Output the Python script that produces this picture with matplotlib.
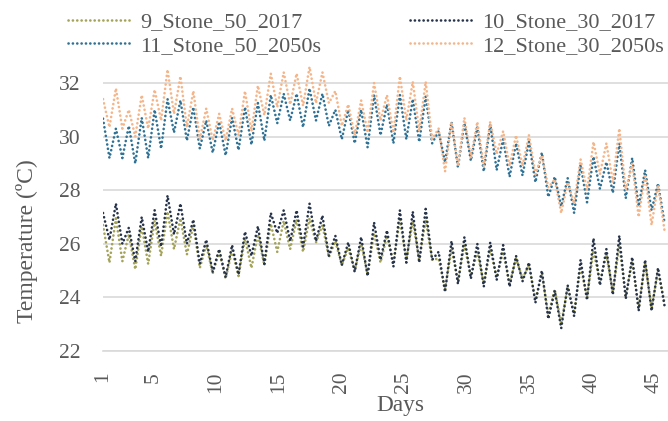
import numpy as np
import matplotlib.pyplot as plt

plt.rcParams['font.family'] = ['Liberation Serif', 'DejaVu Serif']

# Daily peak and trough temperatures (ºC), one pair per day
s9_peak = [26.7, 26.95, 26.35, 26.65, 26.85, 27.2, 26.95, 26.7, 25.95, 25.7, 25.75, 26.2, 26.35, 26.75, 26.85,
           26.9, 26.95, 26.7, 26.1, 25.85, 26.0, 26.4, 26.3, 26.9, 26.85, 26.9, 25.45, 25.8, 25.95, 25.7,
           25.8, 25.7, 25.45, 25.2, 24.9, 24.3, 24.4, 25.15, 25.75, 25.6, 25.95, 25.35, 25.3, 25.0]
s9_trough = [25.3, 25.35, 25.05, 25.25, 25.55, 25.8, 25.6, 25.1, 24.9, 24.7, 24.8, 25.1, 25.2, 25.7, 25.8,
             25.7, 26.05, 25.5, 25.2, 25.0, 24.85, 25.3, 25.3, 25.4, 25.4, 25.4, 24.3, 24.6, 24.8, 24.5,
             24.75, 24.5, 24.7, 23.9, 23.35, 23.0, 23.4, 24.0, 24.55, 24.2, 24.05, 23.6, 23.6, 23.8]

s10_peak = [27.15, 27.5, 26.6, 27.0, 27.25, 27.8, 27.5, 26.9, 26.15, 25.8, 25.95, 26.45, 26.65, 27.15, 27.25,
            27.25, 27.5, 27.05, 26.3, 26.05, 26.25, 26.8, 26.5, 27.25, 27.2, 27.3, 25.7, 26.1, 26.25, 26.0,
            26.05, 25.95, 25.55, 25.3, 25.0, 24.25, 24.45, 25.4, 26.2, 25.8, 26.3, 25.5, 25.4, 25.1]
s10_trough = [26.15, 26.0, 25.35, 25.7, 25.9, 26.35, 26.0, 25.25, 24.95, 24.75, 24.85, 25.55, 25.25, 26.4, 26.1,
              25.9, 26.1, 25.55, 25.2, 24.95, 24.8, 25.4, 25.15, 25.3, 25.3, 25.4, 24.2, 24.5, 24.7, 24.4,
              24.65, 24.4, 24.6, 23.8, 23.2, 22.85, 23.3, 23.9, 24.45, 24.1, 23.95, 23.5, 23.5, 23.7]

s11_peak = [30.67, 30.3, 30.4, 30.7, 31.0, 31.4, 31.35, 31.1, 30.6, 30.55, 30.7, 31.1, 31.25, 31.55, 31.6,
            31.6, 31.8, 31.6, 31.0, 31.0, 31.0, 31.55, 31.2, 31.55, 31.4, 31.5, 30.2, 30.55, 30.5, 30.35,
            30.45, 29.9, 29.75, 29.8, 29.4, 28.5, 28.45, 28.95, 29.25, 29.05, 29.75, 29.2, 28.75, 28.25]
s11_trough = [29.2, 29.2, 29.0, 29.2, 29.55, 30.15, 29.85, 29.55, 29.4, 29.3, 29.5, 29.7, 29.85, 30.5, 30.6,
              30.35, 30.6, 30.4, 29.9, 29.75, 29.6, 30.05, 29.75, 29.9, 29.8, 29.75, 29.05, 28.85, 29.1, 28.7,
              28.75, 28.5, 28.55, 28.3, 27.75, 27.4, 27.15, 27.55, 28.05, 27.9, 27.7, 27.4, 27.25, 26.8]

s12_peak = [31.4, 31.8, 31.0, 31.55, 31.75, 32.5, 32.25, 31.7, 31.05, 30.85, 31.05, 31.7, 31.9, 32.35, 32.4,
            32.35, 32.6, 32.4, 31.7, 31.2, 31.35, 32.0, 31.55, 32.25, 32.05, 32.05, 30.3, 30.55, 30.7, 30.55,
            30.55, 30.2, 30.05, 30.05, 29.3, 28.4, 28.3, 29.15, 29.8, 29.75, 30.3, 29.0, 28.6, 28.2]
s12_trough = [30.35, 30.3, 30.0, 30.3, 30.6, 30.85, 30.35, 29.9, 29.85, 29.85, 30.05, 30.2, 30.8, 31.1, 31.2,
              31.15, 31.25, 31.25, 30.4, 30.05, 30.15, 30.6, 30.15, 30.6, 30.2, 29.9, 28.7, 28.9, 29.2, 28.9,
              29.35, 28.9, 28.9, 28.6, 28.1, 27.15, 27.5, 28.0, 28.6, 28.3, 28.0, 27.0, 26.7, 26.5]

labels = ["9_Stone_50_2017", "10_Stone_30_2017", "11_Stone_50_2050s", "12_Stone_30_2050s"]
colors = ["#A3A45A", "#26334A", "#2F7296", "#F5B589"]
xticks = [1, 5, 10, 15, 20, 25, 30, 35, 40, 45]
yticks = [22, 24, 26, 28, 30, 32]

grey = "#595959"
cycle = 1.03  # spacing of daily peaks on the day axis

k = np.arange(len(s9_peak))
t = np.empty(2 * len(k))
t[0::2] = 1 + cycle * k
t[1::2] = 1 + cycle * (k + 0.5)


def zigzag(peak, trough):
    y = np.empty(2 * len(peak))
    y[0::2] = peak
    y[1::2] = trough
    return y


series = [(s9_peak, s9_trough), (s10_peak, s10_trough), (s11_peak, s11_trough), (s12_peak, s12_trough)]

fig = plt.figure(figsize=(6.68, 4.21), dpi=100)
# plot area runs past the right edge, as in the cropped original
ax = fig.add_axes([103 / 668, 1 - 351 / 421, (697 - 103) / 668, (351 - 42.8) / 421])

lines = []
for (pk, tr), lab, col in zip(series, labels, colors):
    ln, = ax.plot(t, zigzag(pk, tr), color=col, lw=1.9, linestyle=(0, (0.05, 1.6)),
                  dash_capstyle="round", solid_joinstyle="round", label=lab)
    lines.append(ln)

ax.set_xlim(1, 48.4)
ax.set_ylim(22, 33.5)
ax.set_xticks(xticks)
ax.set_yticks(yticks)
ax.yaxis.grid(True, color="#D9D9D9", lw=1.2)
ax.set_axisbelow(True)
for s in ["top", "right", "left"]:
    ax.spines[s].set_visible(False)
ax.spines["bottom"].set_color("#D9D9D9")
ax.spines["bottom"].set_linewidth(1.2)
ax.tick_params(axis="y", length=0, pad=16, labelsize=15.5, labelcolor=grey)
ax.tick_params(axis="x", length=0, pad=15, labelsize=15.5, labelcolor=grey, labelrotation=90)

fig.text(27 / 668, 1 - 241 / 421, "Temperature (ºC)", rotation=90, ha="center", va="center",
         fontsize=17, color=grey)
fig.text(400 / 668, 1 - 405 / 421, "Days", ha="center", va="center", fontsize=16.8, color=grey)

order = [0, 2, 1, 3]
fig.legend([lines[i] for i in order], [labels[i] for i in order], ncol=2, loc="upper left",
           bbox_to_anchor=(68 / 668, 1 - 12 / 421), frameon=False, fontsize=16, labelcolor=grey,
           handlelength=2.8, handletextpad=0.45, columnspacing=4.0, labelspacing=0.12,
           borderpad=0, borderaxespad=0)

fig.savefig("out.png", dpi=100)
